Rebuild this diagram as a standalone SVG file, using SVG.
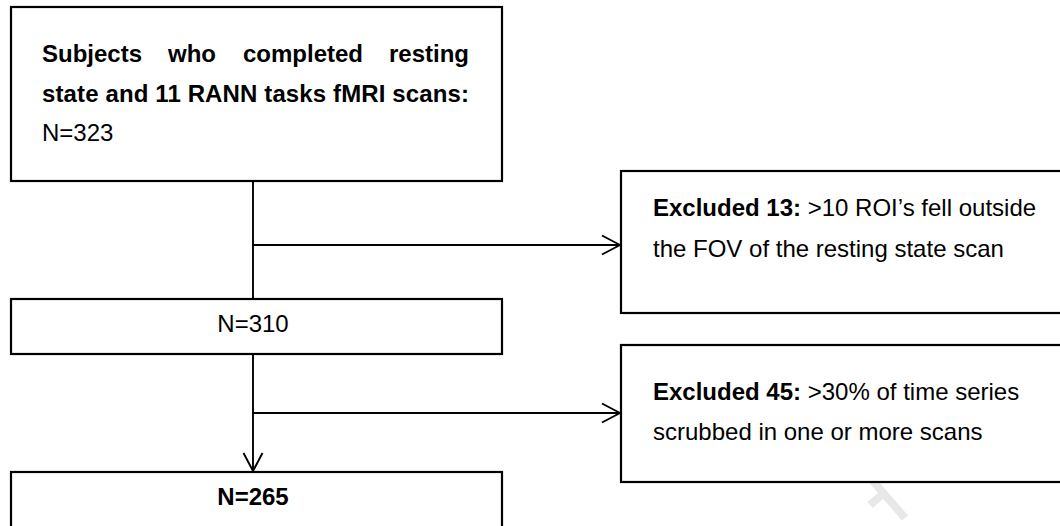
<svg xmlns="http://www.w3.org/2000/svg" width="1060" height="526" viewBox="0 0 1060 526">
<defs>
<style>
.box{fill:#fff;stroke:#000;stroke-width:2.2}
.t{font-family:"Liberation Sans",Arial,sans-serif;font-size:24px;fill:#000}
.b{font-weight:bold}
.c{fill:none;stroke:#000;stroke-width:1.9}
</style>
<marker id="arr" viewBox="0 0 20 22" refX="19" refY="11" markerWidth="20" markerHeight="22" markerUnits="userSpaceOnUse" orient="auto">
<path d="M1,1.5 L19,11 L1,20.5" fill="none" stroke="#000" stroke-width="1.9"/>
</marker>
</defs>
<rect width="1060" height="526" fill="#fff"/>
<g id="watermark" stroke="#e8e8e8" stroke-width="8" fill="none" stroke-linecap="butt">
<path d="M872,480 L905,518"/>
<path d="M870,505 L885,492"/>
</g>
<g id="connectors">
<path class="c" d="M253,181 V299"/>
<path class="c" d="M253,245 H620" marker-end="url(#arr)"/>
<path class="c" d="M253,354 V471" marker-end="url(#arr)"/>
<path class="c" d="M253,413 H620" marker-end="url(#arr)"/>
</g>
<g id="n323">
<rect class="box" x="11" y="7" width="491" height="174"/>
<text class="t b" y="62"><tspan x="42">Subjects</tspan><tspan x="168">who</tspan><tspan x="243">completed</tspan><tspan x="389">resting</tspan></text>
<text class="t b" x="42" y="102" textLength="427" lengthAdjust="spacing">state and 11 RANN tasks fMRI scans:</text>
<text class="t" x="42" y="141">N=323</text>
</g>
<g id="excl13">
<rect class="box" x="621" y="171" width="460" height="142"/>
<text class="t" x="653" y="216"><tspan class="b">Excluded 13:</tspan> &gt;10 ROI’s fell outside</text>
<text class="t" x="653" y="257">the FOV of the resting state scan</text>
</g>
<g id="n310">
<rect class="box" x="11" y="299" width="491" height="55"/>
<text class="t" x="253" y="332" text-anchor="middle">N=310</text>
</g>
<g id="excl45">
<rect class="box" x="621" y="345" width="460" height="137"/>
<text class="t" x="653" y="400"><tspan class="b">Excluded 45:</tspan> &gt;30% of time series</text>
<text class="t" x="653" y="440">scrubbed in one or more scans</text>
</g>
<g id="n265">
<rect class="box" x="11" y="472" width="491" height="80"/>
<text class="t b" x="253" y="505" text-anchor="middle">N=265</text>
</g>
</svg>
